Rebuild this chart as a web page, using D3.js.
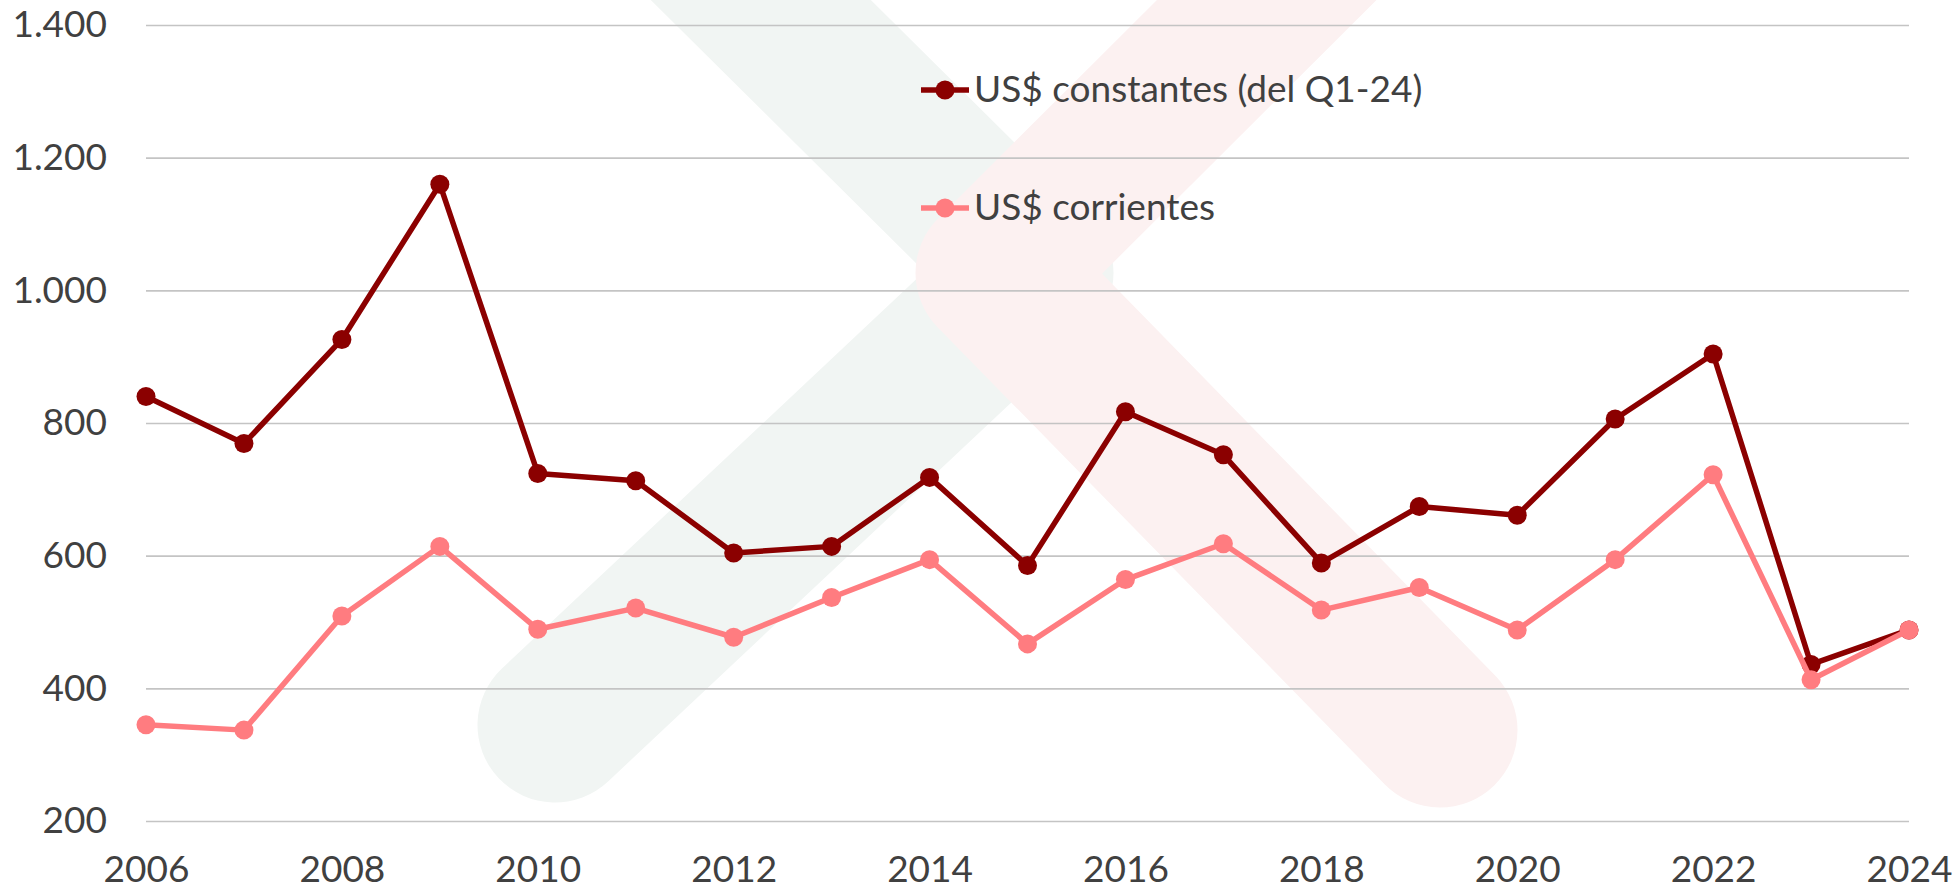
<!DOCTYPE html>
<html>
<head>
<meta charset="utf-8">
<script src="https://cdnjs.cloudflare.com/ajax/libs/d3/7.8.5/d3.min.js"></script>
<style>
  html, body { margin: 0; padding: 0; background: #ffffff; }
  svg { display: block; }
  text { font-family: Lato, "Open Sans", sans-serif; fill: #404040; }
</style>
</head>
<body>
<script>
// años de la serie
var years = [2006, 2007, 2008, 2009, 2010, 2011, 2012, 2013, 2014, 2015,
             2016, 2017, 2018, 2019, 2020, 2021, 2022, 2023, 2024];

// US$ constantes (del Q1-24)
var constantes = [840, 769, 926, 1160, 724, 713, 604, 614, 718, 585,
                  817, 752, 589, 674, 661, 806, 904, 436, 488];

// US$ corrientes
var corrientes = [345, 337, 509, 614, 489, 521, 477, 537, 594, 467,
                  564, 618, 518, 552, 488, 594, 722, 413, 488];

var seriesNames = ["US$ constantes (del Q1-24)", "US$ corrientes"];
var yTicks = [200, 400, 600, 800, 1000, 1200, 1400];
var xTicks = [2006, 2008, 2010, 2012, 2014, 2016, 2018, 2020, 2022, 2024];

function linechart(){
  var width = 1959,
      height = 891;

  var left = 146, right = 1909, top = 25, bottom = 821;

  var colors = ["#8B0000", "#FF7C80"];

  var locale = d3.formatLocale({decimal: ",", thousands: ".", grouping: [3], currency: ["$", ""]});
  var fmt = locale.format(",d");

  var x = d3.scaleLinear().domain([2006, 2024]).range([left, right]);
  var y = d3.scaleLinear().domain([200, 1400]).range([bottom, top]);

  var svg = d3.select("body").append("svg")
    .attr("width", width)
    .attr("height", height);

  // marca de agua de fondo (logo tenue)
  var mark = svg.append("g").attr("class", "watermark")
    .style("fill", "none")
    .style("stroke-width", 155)
    .style("stroke-linecap", "round")
    .style("stroke-linejoin", "round");

  mark.append("path")
    .attr("d", d3.line()([[660, -100], [1036, 273], [555, 725]]))
    .style("stroke", "#F1F5F3");

  mark.append("path")
    .attr("d", d3.line()([[1367, -100], [993, 273], [1440, 730]]))
    .style("stroke", "#FCF1F1");

  // eje y con lineas de cuadricula
  var yAxis = svg.append("g")
    .attr("transform", "translate(" + left + ",0)")
    .call(d3.axisLeft(y)
      .tickValues(yTicks)
      .tickFormat(fmt)
      .tickSize(-(right - left))
      .tickPadding(39));

  yAxis.select(".domain").remove();
  yAxis.selectAll(".tick line")
    .style("stroke", "#C4C4C4")
    .style("stroke-width", 1.6);
  yAxis.selectAll("text")
    .style("font-size", "37px")
    .style("fill", "#404040");

  // eje x
  var xAxis = svg.append("g")
    .attr("transform", "translate(0," + bottom + ")")
    .call(d3.axisBottom(x)
      .tickValues(xTicks)
      .tickFormat(d3.format("d"))
      .tickSize(0));

  xAxis.select(".domain").remove();
  xAxis.selectAll("text")
    .attr("y", 61)
    .attr("dy", 0)
    .style("font-size", "37px")
    .style("fill", "#404040");

  var line = d3.line()
    .x(function(d) { return x(d.year); })
    .y(function(d) { return y(d.value); });

  var series = [constantes, corrientes].map(function(vals, i){
    return {
      name: seriesNames[i],
      color: colors[i],
      values: vals.map(function(v, j){ return {year: years[j], value: v}; })
    };
  });

  var g = svg.selectAll(".series")
      .data(series)
    .enter().append("g")
      .attr("class", "series");

  g.append("path")
    .attr("d", function(d) { return line(d.values); })
    .style("fill", "none")
    .style("stroke", function(d) { return d.color; })
    .style("stroke-width", 5.5)
    .style("stroke-linejoin", "round");

  g.selectAll("circle")
      .data(function(d) { return d.values.map(function(v){ return {year: v.year, value: v.value, color: d.color}; }); })
    .enter().append("circle")
      .attr("cx", function(d) { return x(d.year); })
      .attr("cy", function(d) { return y(d.value); })
      .attr("r", 9.5)
      .style("fill", function(d) { return d.color; });

  // leyenda
  var legend = svg.selectAll(".legend")
      .data(series)
    .enter().append("g")
      .attr("class", "legend")
      .attr("transform", function(d, i) { return "translate(921," + (90 + i * 118) + ")"; });

  legend.append("line")
    .attr("x1", 0).attr("x2", 48)
    .attr("y1", 0).attr("y2", 0)
    .style("stroke", function(d) { return d.color; })
    .style("stroke-width", 5.5);

  legend.append("circle")
    .attr("cx", 24)
    .attr("cy", 0)
    .attr("r", 9.5)
    .style("fill", function(d) { return d.color; });

  legend.append("text")
    .attr("x", 53)
    .attr("y", 12)
    .style("font-size", "37px")
    .text(function(d) { return d.name; });
}

window.onload = function(){
  linechart();
};
</script>
</body>
</html>
